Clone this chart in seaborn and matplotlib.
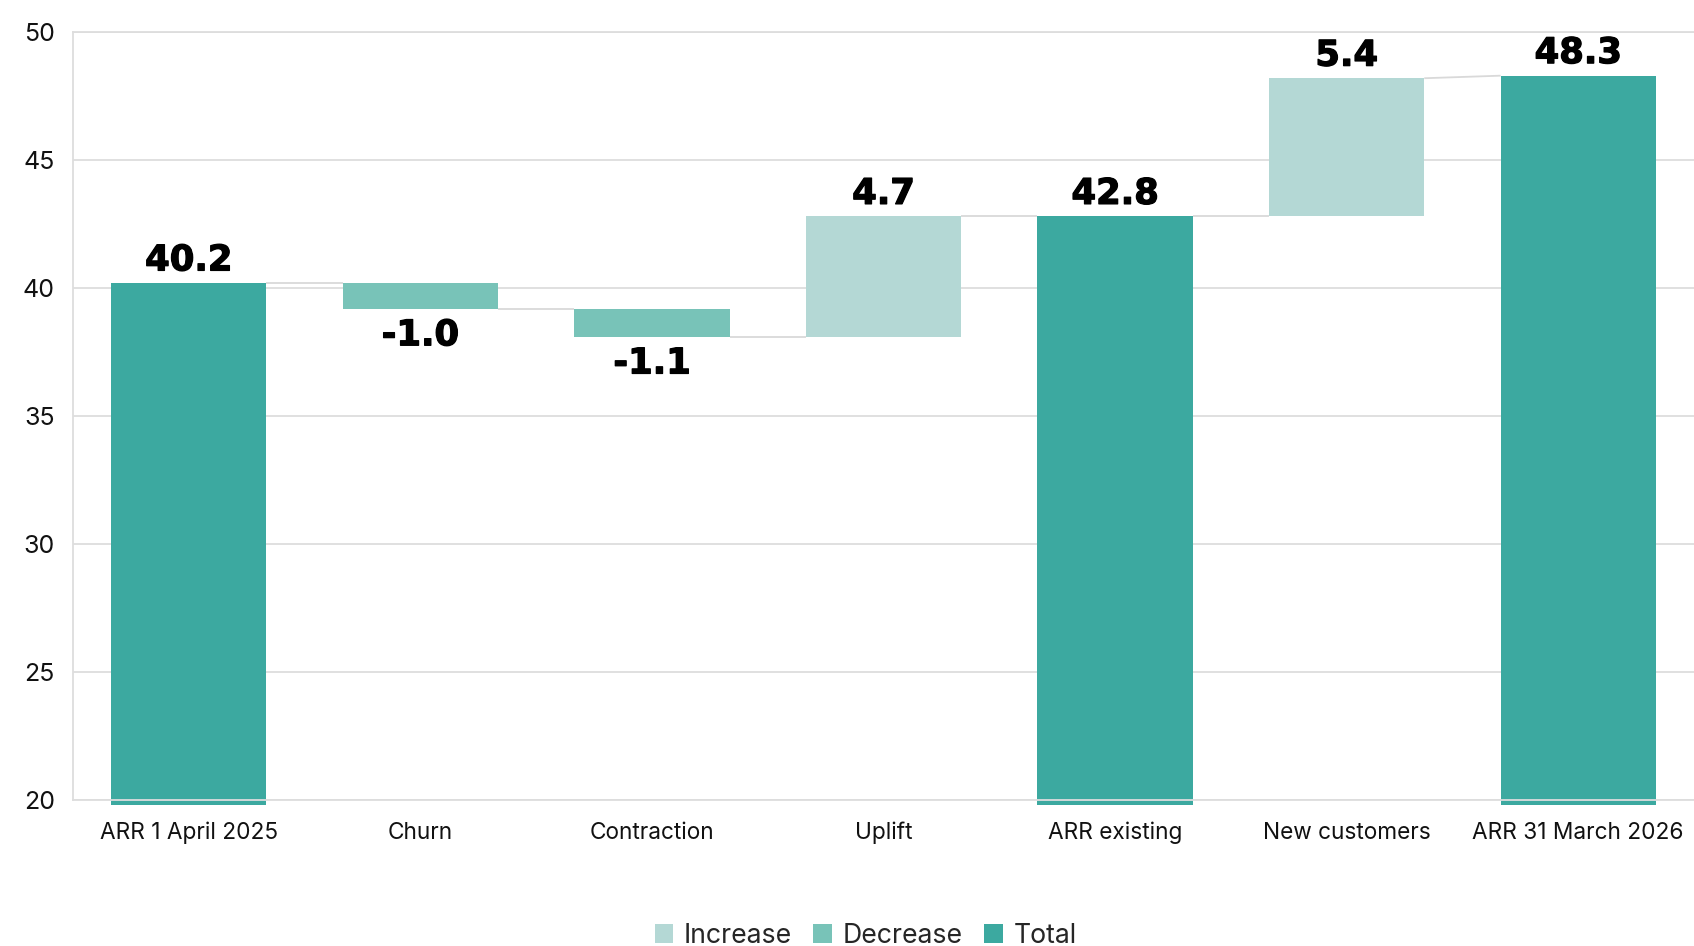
import matplotlib
matplotlib.use("Agg")
import matplotlib.pyplot as plt
import matplotlib.patheffects as pe
from matplotlib.patches import Patch, Rectangle
import seaborn as sns

# Waterfall data (ARR, millions)
categories = ["ARR 1 April 2025", "Churn", "Contraction", "Uplift",
              "ARR existing", "New customers", "ARR 31 March 2026"]
values = [40.2, -1.0, -1.1, 4.7, 42.8, 5.4, 48.3]
kinds = ["Total", "Decrease", "Decrease", "Increase", "Total", "Increase", "Total"]
y_ticks = [20, 25, 30, 35, 40, 45, 50]
legend_labels = ["Increase", "Decrease", "Total"]

kind_colors = {"Increase": "#b4d8d5", "Decrease": "#78c3b8", "Total": "#3ca9a0"}

sns.set_theme(style="white")
plt.rcParams["font.family"] = ["Inter", "DejaVu Sans"]

# Floating bar geometry from running level
bottoms, heights, starts, ends = [], [], [], []
level = 0.0
for v, k in zip(values, kinds):
    if k == "Total":
        bottoms.append(0.0)
        heights.append(v)
        starts.append(v)
        ends.append(v)
        level = v
    else:
        starts.append(level)
        new = level + v
        bottoms.append(min(level, new))
        heights.append(abs(v))
        ends.append(new)
        level = new

fig = plt.figure(figsize=(16.94, 9.46), dpi=100)
ax = fig.add_axes([0.0431, 0.1543, 0.9569, 0.8117])

bar_w = 0.67
palette = [kind_colors[k] for k in kinds]
sns.barplot(x=categories, y=heights, hue=categories, palette=palette,
            width=bar_w, legend=False, ax=ax, zorder=3, linewidth=0,
            saturation=1)

# Bars run a few pixels past the bottom axis line
clip_box = Rectangle((0, -0.006), 1, 1.006, transform=ax.transAxes)
for p, b, h in zip(ax.patches, bottoms, heights):
    p.set_y(b)
    p.set_height(h)
    p.set_clip_path(clip_box)

# Connector lines between consecutive bars
for i in range(len(values) - 1):
    ax.plot([i + bar_w / 2, i + 1 - bar_w / 2], [ends[i], starts[i + 1]],
            color="#d9d9d9", lw=1.3, zorder=2, solid_capstyle="butt")

# Value labels
label_font = dict(fontsize=25.5, fontweight="bold", color="black",
                  family=["DejaVu Sans"],
                  path_effects=[pe.withStroke(linewidth=0.9, foreground="black")])
for i, (v, k) in enumerate(zip(values, kinds)):
    text = f"{v:.1f}"
    if k == "Decrease":
        ax.annotate(text, (i, bottoms[i]), xytext=(0, -7), textcoords="offset points",
                    ha="center", va="top", **label_font)
    else:
        ax.annotate(text, (i, bottoms[i] + heights[i]), xytext=(0, 4),
                    textcoords="offset points", ha="center", va="bottom",
                    **label_font)

ax.set_xlim(-0.5, len(categories) - 0.5)
ax.set_ylim(20, 50)
ax.set_yticks(y_ticks)
ax.set_yticklabels([str(t) for t in y_ticks])
ax.yaxis.grid(True, color="#dddddd", lw=1.3, zorder=0)
ax.set_axisbelow(True)
ax.tick_params(axis="y", length=0, pad=13, labelsize=18, labelcolor="#111111")
ax.tick_params(axis="x", length=0, pad=15.5, labelsize=16.3, labelcolor="#111111")
ax.set_xlabel("")
ax.set_ylabel("")

for side in ["left", "top", "bottom"]:
    ax.spines[side].set_visible(True)
    ax.spines[side].set_color("#dddddd")
    ax.spines[side].set_linewidth(1.3)
    ax.spines[side].set_zorder(4)
ax.spines["right"].set_visible(False)

handles = [Patch(facecolor=kind_colors[k], edgecolor="none") for k in legend_labels]
fig.legend(handles, legend_labels, loc="center", bbox_to_anchor=(0.511, 0.011),
           ncol=3, frameon=False, fontsize=19.2, handlelength=0.7, handleheight=0.7,
           handletextpad=0.4, columnspacing=0.8)

fig.savefig("out.png", dpi=100)
